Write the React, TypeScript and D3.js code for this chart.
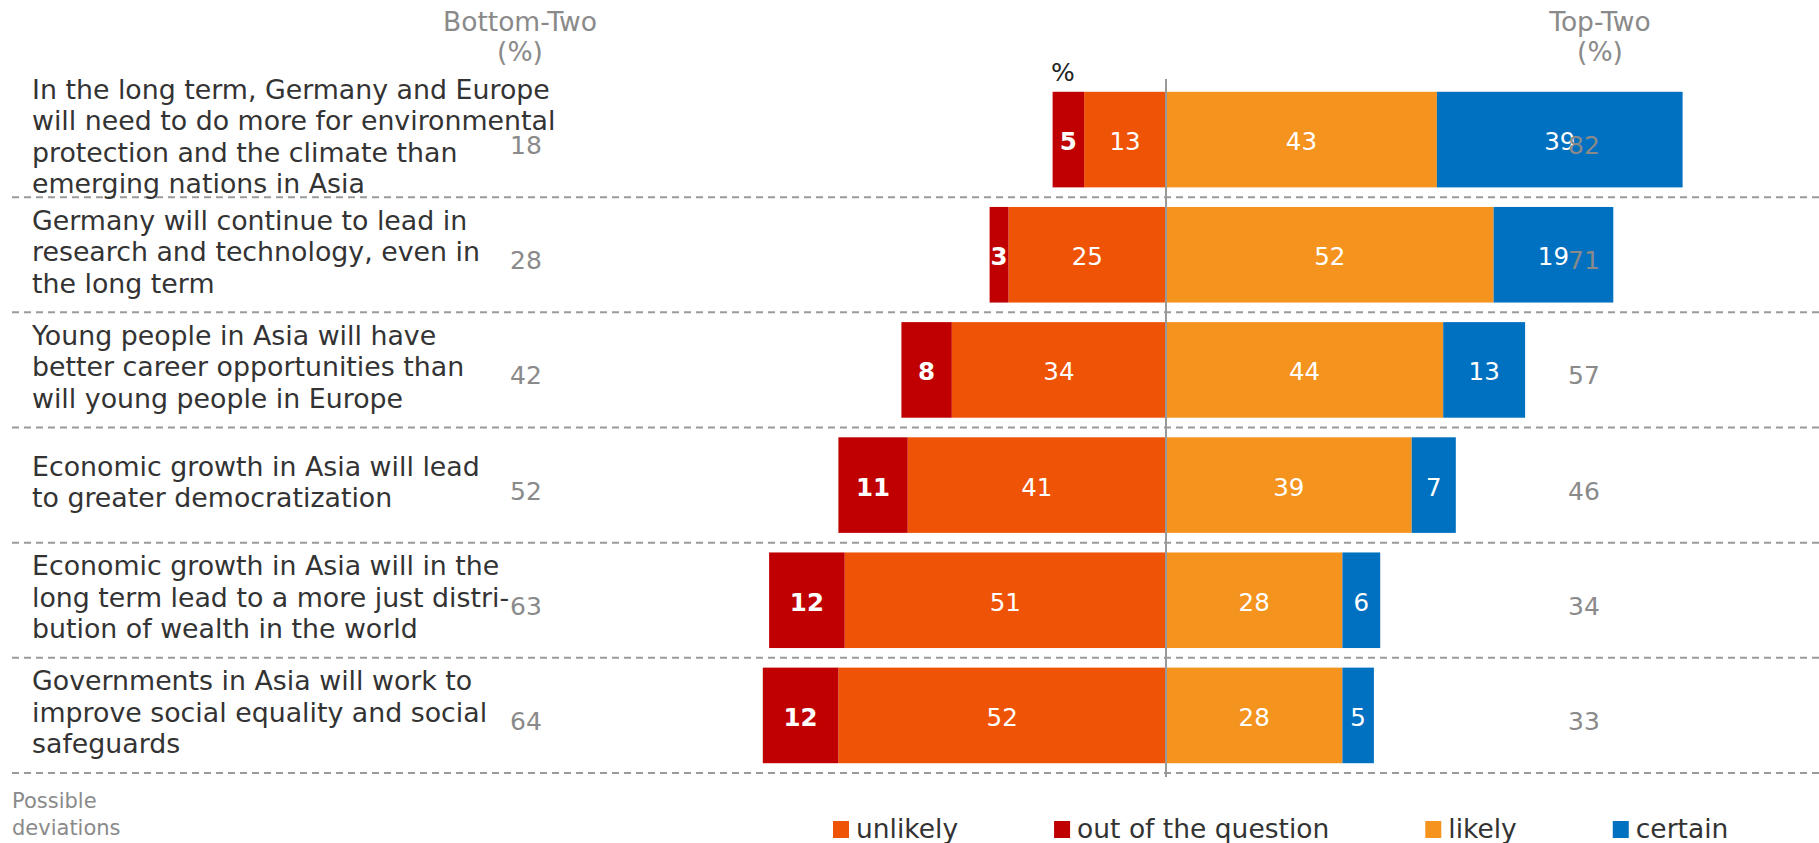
import React, { useEffect, useRef } from "react";
import * as d3 from "d3";

const categories: string[][] = [
  ["In the long term, Germany and Europe", "will need to do more for environmental", "protection and the climate than", "emerging nations in Asia"],
  ["Germany will continue to lead in", "research and technology, even in", "the long term"],
  ["Young people in Asia will have", "better career opportunities than", "will young people in Europe"],
  ["Economic growth in Asia will lead", "to greater democratization"],
  ["Economic growth in Asia will in the", "long term lead to a more just distri-", "bution of wealth in the world"],
  ["Governments in Asia will work to", "improve social equality and social", "safeguards"],
];
const outOfQuestion = [5, 3, 8, 11, 12, 12];
const unlikely = [13, 25, 34, 41, 51, 52];
const likely = [43, 52, 44, 39, 28, 28];
const certain = [39, 19, 13, 7, 6, 5];
const bottomTwo = [18, 28, 42, 52, 63, 64];
const topTwo = [82, 71, 57, 46, 34, 33];
const legendItems = ["unlikely", "out of the question", "likely", "certain"];

const COLORS: Record<string, string> = {
  unlikely: "#EF5306",
  "out of the question": "#C00000",
  likely: "#F5931F",
  certain: "#0070C0",
};

const W = 1819;
const H = 843;
const FONT = "'DejaVu Sans', Verdana, sans-serif";

export default function App() {
  const ref = useRef<SVGSVGElement | null>(null);

  useEffect(() => {
    document.body.style.margin = "0";
    document.body.style.overflow = "hidden";
    const svg = d3.select(ref.current);
    svg.selectAll("*").remove();

    const center = 1166;
    const unit = 6.3;
    const x = d3.scaleLinear().domain([-64, 82]).range([center - 64 * unit, center + 82 * unit]);
    const idx = categories.map((_, i) => String(i));
    const y = d3.scaleBand().domain(idx).range([82, 773]).padding(0);
    const step = y.step();
    const barH = step * 0.83;

    const g = svg.append("g").style("font-family", FONT);

    // separators
    idx.forEach((k) => {
      const yy = (y(k) as number) + step;
      g.append("line")
        .attr("x1", 12).attr("x2", W)
        .attr("y1", yy).attr("y2", yy)
        .attr("stroke", "#9a9a9a").attr("stroke-width", 2)
        .attr("stroke-dasharray", "7,5");
    });

    // headers
    const hdr = (txt: string, cx: number, yy: number) =>
      g.append("text").attr("x", cx).attr("y", yy).attr("text-anchor", "middle")
        .attr("fill", "#8a8a8a").style("font-size", "26.5px").text(txt);
    hdr("Bottom-Two", 520, 31);
    hdr("(%)", 520, 61);
    hdr("Top-Two", 1600, 31);
    hdr("(%)", 1600, 61);
    g.append("text").attr("x", 1051).attr("y", 81).attr("fill", "#222")
      .style("font-size", "25px").text("%");

    // bars
    idx.forEach((k, i) => {
      const cy = (y(k) as number) + step / 2;
      const top = cy - barH / 2;
      const segs = [
        { key: "unlikely", x0: -unlikely[i], x1: 0, v: unlikely[i], bold: false },
        { key: "out of the question", x0: -(unlikely[i] + outOfQuestion[i]), x1: -unlikely[i], v: outOfQuestion[i], bold: true },
        { key: "likely", x0: 0, x1: likely[i], v: likely[i], bold: false },
        { key: "certain", x0: likely[i], x1: likely[i] + certain[i], v: certain[i], bold: false },
      ];
      segs.forEach((s) => {
        g.append("rect")
          .attr("x", x(s.x0)).attr("y", top)
          .attr("width", x(s.x1) - x(s.x0)).attr("height", barH)
          .attr("fill", COLORS[s.key]);
      });
      segs.forEach((s) => {
        g.append("text")
          .attr("x", (x(s.x0) + x(s.x1)) / 2).attr("y", cy + 2)
          .attr("text-anchor", "middle").attr("dominant-baseline", "central")
          .attr("fill", "#fff").style("font-size", "24.5px")
          .style("font-weight", s.bold ? "bold" : "normal")
          .text(String(s.v));
      });

      // category label
      const lines = categories[i];
      const lh = 31.5;
      const t = g.append("text").attr("fill", "#333").style("font-size", "26.8px");
      lines.forEach((ln, j) => {
        t.append("tspan").attr("x", 32)
          .attr("y", cy - 3 + (j - (lines.length - 1) / 2) * lh)
          .attr("dominant-baseline", "central")
          .text(ln);
      });

      // side values
      g.append("text").attr("x", 526).attr("y", cy + 6)
        .attr("text-anchor", "middle").attr("dominant-baseline", "central")
        .attr("fill", "#8a8a8a").style("font-size", "25px").text(String(bottomTwo[i]));
      g.append("text").attr("x", 1584).attr("y", cy + 6)
        .attr("text-anchor", "middle").attr("dominant-baseline", "central")
        .attr("fill", "#8a8a8a").style("font-size", "25px").text(String(topTwo[i]));
    });

    // center line
    g.append("line").attr("x1", x(0)).attr("x2", x(0)).attr("y1", 79).attr("y2", 777)
      .attr("stroke", "#999").attr("stroke-width", 2);

    // footnote
    g.append("text").attr("x", 12).attr("y", 808).attr("fill", "#8a8a8a")
      .style("font-size", "21px").text("Possible");
    g.append("text").attr("x", 12).attr("y", 835).attr("fill", "#8a8a8a")
      .style("font-size", "21px").text("deviations");

    // legend
    let lx = 833;
    legendItems.forEach((name) => {
      g.append("rect").attr("x", lx).attr("y", 821).attr("width", 16).attr("height", 17)
        .attr("fill", COLORS[name]);
      const tt = g.append("text").attr("x", lx + 23).attr("y", 838).attr("fill", "#333")
        .style("font-size", "26.5px").text(name);
      const w = (tt.node() as SVGTextElement).getComputedTextLength();
      lx += 23 + w + 96;
    });
  }, []);

  return <svg ref={ref} width={W} height={H} style={{ display: "block" }} />;
}
